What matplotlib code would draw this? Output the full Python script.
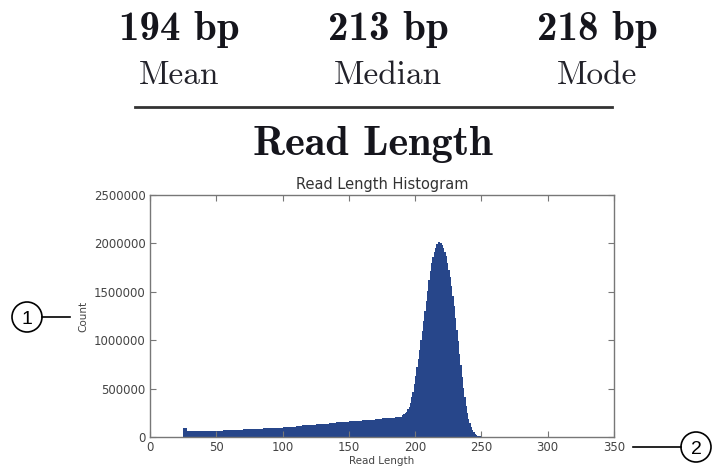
import numpy as np
import matplotlib
matplotlib.use('Agg')
import matplotlib.pyplot as plt
from matplotlib.patches import Circle
from matplotlib.lines import Line2D
from matplotlib.transforms import IdentityTransform

## Data
stat_values = ['194 bp', '213 bp', '218 bp']
stat_names = ['Mean', 'Median', 'Mode']

# coarse bins for the long flat tail, then 1 bp bins round the peak
tail_edges = [25, 28] + list(range(30, 191, 5))
tail_counts_k = [88, 66,
                 62, 62, 63, 64, 66, 68, 71, 74, 78, 82, 86, 90, 94, 98, 102, 108,
                 114, 120, 126, 132, 138, 144, 150, 156, 162, 168, 174, 180, 186, 193,
                 200, 210]
peak_edges = list(range(191, 256))
peak_counts_k = [225, 235, 248, 262, 285, 315, 355, 410, 470, 545,      # 190-199
                 630, 720, 810, 900, 1000, 1100, 1200, 1300, 1400, 1510,  # 200-209
                 1620, 1720, 1800, 1860, 1910, 1955, 1990, 2010, 2015, 2005,  # 210-219
                 1985, 1955, 1915, 1865, 1800, 1730, 1650, 1560, 1460, 1350,  # 220-229
                 1230, 1110, 990, 860, 740, 620, 510, 410, 320, 250,  # 230-239
                 190, 140, 105, 75, 52, 35, 23, 15, 10, 6,  # 240-249
                 4, 3, 2, 1, 1]  # 250-254

edges = np.array(tail_edges + peak_edges)
counts = np.array(tail_counts_k + peak_counts_k) * 1000.0

xticks = [0, 50, 100, 150, 200, 250, 300, 350]
yticks = [0, 500000, 1000000, 1500000, 2000000, 2500000]

W, H = 712, 466
fig = plt.figure(figsize=(W / 100, H / 100), dpi=100)
fig.patch.set_facecolor('white')

## Header stats (LaTeX-like Computer Modern)
stat_x = [179, 388, 597]
for x, v, n in zip(stat_x, stat_values, stat_names):
    fig.text(x / W, 1 - 40 / H, v, family='cmb10', fontsize=29.5, ha='center', va='baseline', color='#15151c')
    fig.text(x / W, 1 - 84 / H, n, family='cmr10', fontsize=24, ha='center', va='baseline', color='#22222a')
fig.add_artist(Line2D([135 / W, 612 / W], [1 - 107 / H, 1 - 107 / H], color='#333333', lw=2,
                      transform=fig.transFigure))
fig.text(373 / W, 1 - 155 / H, 'Read Length', family='cmb10', fontsize=30.5, ha='center', va='baseline',
         color='#15151c')

## Histogram
ax = fig.add_axes([150 / W, 1 - 437 / H, (614 - 150) / W, (437 - 195) / H])
ax.stairs(counts, edges, fill=True, color='#27468a')
ax.set_xlim(0, 350)
ax.set_ylim(0, 2500000)
ax.set_xticks(xticks)
ax.set_yticks(yticks)
ax.set_xticklabels([str(t) for t in xticks])
ax.set_yticklabels([str(t) for t in yticks])
ax.tick_params(direction='in', top=True, right=True, length=4, width=0.8, color='#777777',
               labelsize=8.5, labelcolor='#444444', pad=3)
for s in ax.spines.values():
    s.set_color('#777777')
    s.set_linewidth(1.0)
ax.set_title('Read Length Histogram', fontsize=10.5, color='#333333', pad=4)
ax.set_xlabel('Read Length', fontsize=7.5, color='#444444', labelpad=1)
ax.set_ylabel('Count', fontsize=7.5, color='#444444', labelpad=4)

## Call-out markers (pixel coordinates, origin bottom-left)
ident = IdentityTransform()
for num, (cx, cy), (lx0, lx1) in [('1', (27, 317), (42, 70)), ('2', (696, 447), (633, 681))]:
    fig.add_artist(Circle((cx, H - cy), 15, transform=ident, fill=False, ec='black', lw=1.2))
    fig.add_artist(Line2D([lx0, lx1], [H - cy, H - cy], transform=ident, color='black', lw=1.2))
    fig.text(cx / W, 1 - cy / H, num, family='Liberation Sans', fontsize=14, ha='center', va='center_baseline')

fig.savefig('out.png', dpi=100)
